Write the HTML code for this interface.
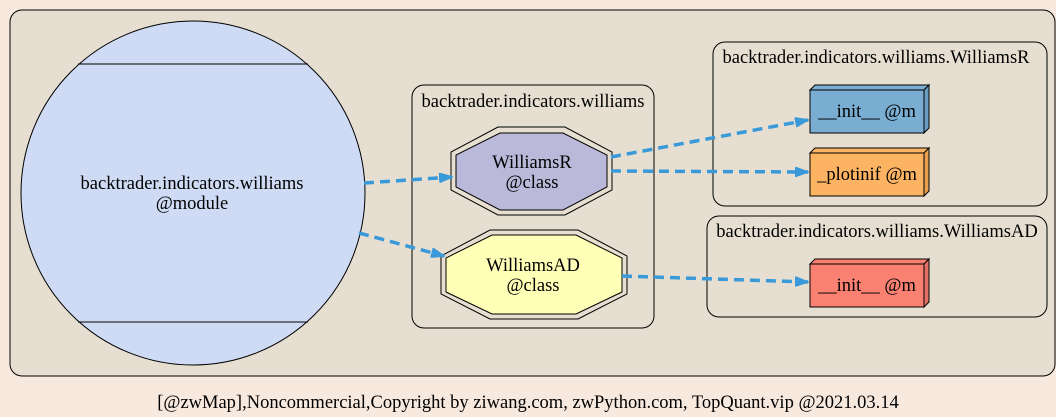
<!DOCTYPE html>
<html><head><style>
body{margin:0;background:#f8e9df;}
svg{display:block;font-family:"Liberation Serif",serif;}
</style></head><body>
<svg width="1056" height="417" viewBox="0 0 1056 417" xmlns="http://www.w3.org/2000/svg">
<defs>
<marker id="a" markerWidth="14" markerHeight="10" refX="13" refY="5" orient="auto" markerUnits="userSpaceOnUse">
<path d="M0,0 L14,5 L0,10 z" fill="#3a9ad9" stroke="#3a9ad9"/></marker>
</defs>
<rect x="0" y="0" width="1056" height="417" fill="#f8e9df"/>
<rect x="10" y="10" width="1045" height="366" rx="12" fill="#e6dfd1" stroke="#000"/>
<rect x="412" y="85" width="242" height="243" rx="12" fill="#e6dfd1" stroke="#000"/>
<rect x="713" y="42" width="334" height="164" rx="12" fill="#e6dfd1" stroke="#000"/>
<rect x="707" y="216" width="340" height="101" rx="12" fill="#e6dfd1" stroke="#000"/>
<g font-size="18.5" fill="#000" text-anchor="middle">
<text x="533" y="107">backtrader.indicators.williams</text>
<text x="876" y="63">backtrader.indicators.williams.WilliamsR</text>
<text x="877" y="237">backtrader.indicators.williams.WilliamsAD</text>
</g>
<circle cx="193" cy="193" r="172" fill="#cfdbf5" stroke="#000"/>
<line x1="78" y1="64" x2="308" y2="64" stroke="#000"/>
<line x1="78" y1="322" x2="308" y2="322" stroke="#000"/>
<text x="192" y="189" font-size="18.5" text-anchor="middle">backtrader.indicators.williams</text>
<text x="192" y="209" font-size="18.5" text-anchor="middle">@module</text>
<polygon points="498,127 565,127 612,152 612,190 565,215 498,215 451,190 451,152" fill="none" stroke="#000"/>
<polygon points="500,133 563,133 607,155 607,187 563,210 500,210 456,187 456,155" fill="#bbb9da" stroke="#000"/>
<text x="532" y="168" font-size="18.5" text-anchor="middle">WilliamsR</text>
<text x="532" y="188" font-size="18.5" text-anchor="middle">@class</text>
<polygon points="490,230 578,230 627,256 627,294 578,319 490,319 441,294 441,256" fill="none" stroke="#000"/>
<polygon points="492,235 576,235 622,258 622,292 576,314 492,314 446,292 446,258" fill="#ffffb8" stroke="#000"/>
<text x="533" y="271" font-size="18.5" text-anchor="middle">WilliamsAD</text>
<text x="533" y="291" font-size="18.5" text-anchor="middle">@class</text>
<g stroke="#000">
<polygon points="810,90 815,85 929,85 924,90" fill="#7aadd2"/>
<polygon points="924,90 929,85 929,128 924,133" fill="#6a9dc2"/>
<rect x="810" y="90" width="114" height="43" fill="#7aadd2"/>
<polygon points="810,153 815,148 929,148 924,153" fill="#fdb462"/>
<polygon points="924,153 929,148 929,191 924,196" fill="#e8a050"/>
<rect x="810" y="153" width="114" height="43" fill="#fdb462"/>
<polygon points="810,264 815,259 929,259 924,264" fill="#fa8072"/>
<polygon points="924,264 929,259 929,302 924,307" fill="#e07065"/>
<rect x="810" y="264" width="114" height="43" fill="#fa8072"/>
</g>
<g font-size="18.5" text-anchor="middle">
<text x="867" y="117">__init__ @m</text>
<text x="867" y="180">_plotinif @m</text>
<text x="867" y="291">__init__ @m</text>
</g>
<g stroke="#3a9ad9" stroke-width="3.5" stroke-dasharray="10,6" fill="none" marker-end="url(#a)">
<path d="M364,183 L452,177"/>
<path d="M359,233 L444,256"/>
<path d="M611,157 L808,120"/>
<path d="M611,171 L808,172"/>
<path d="M622,276 L808,282"/>
</g>
<text x="528" y="408" font-size="18.5" text-anchor="middle">[@zwMap],Noncommercial,Copyright by ziwang.com, zwPython.com, TopQuant.vip @2021.03.14</text>
</svg>
</body></html>
